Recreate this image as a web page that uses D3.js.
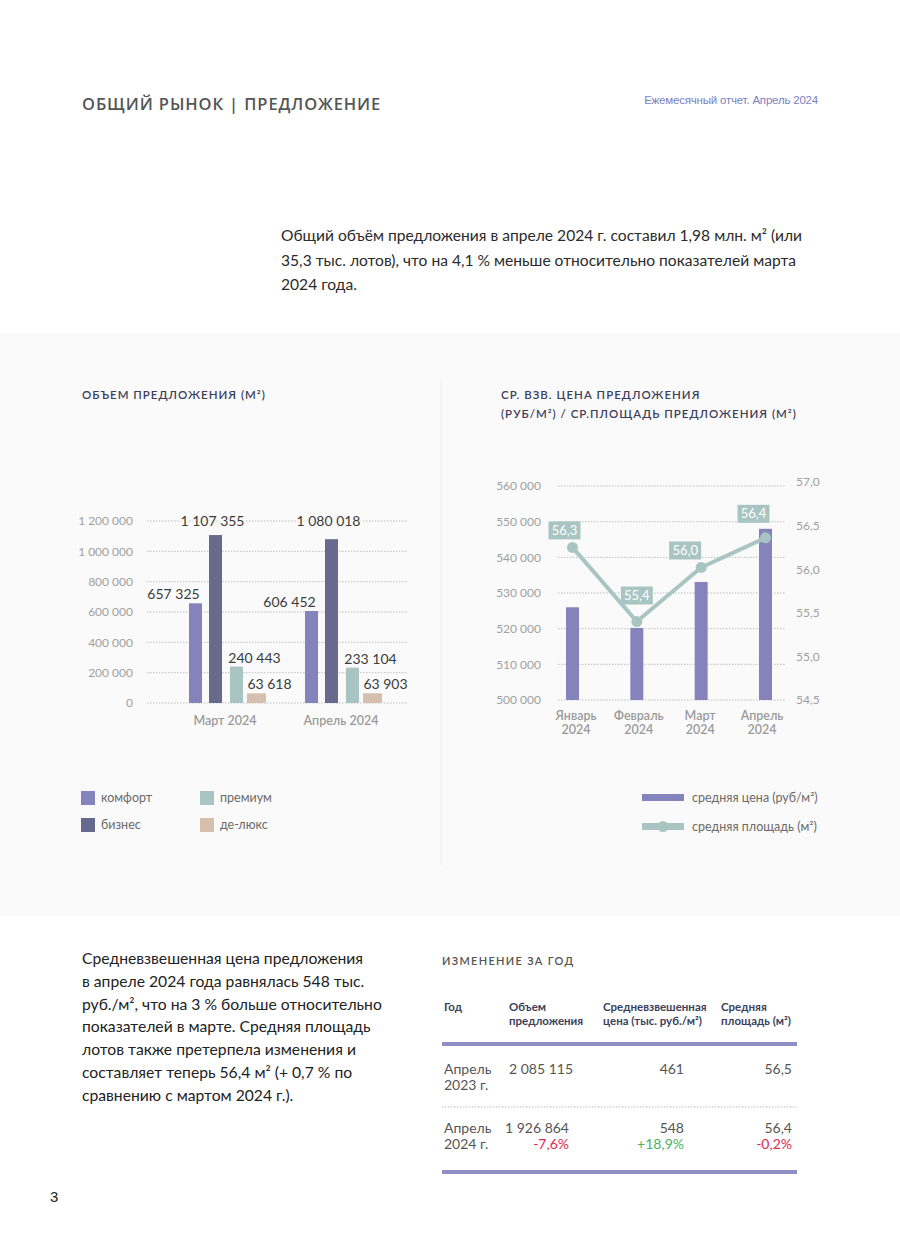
<!DOCTYPE html>
<html><head><meta charset="utf-8">
<script src="https://cdn.jsdelivr.net/npm/d3@7"></script>
<style>
html,body{margin:0;padding:0;background:#fff;}
svg{display:block;font-family:Lato,"Open Sans",sans-serif;}
</style></head>
<body>
<svg id="c" width="900" height="1256"></svg>
<script>
// ---- data ----
const volumeGroups = ["Март 2024", "Апрель 2024"];
const volumeSeries = ["комфорт", "бизнес", "премиум", "де-люкс"];
const comfortVol = [657325, 606452];
const businessVol = [1107355, 1080018];
const premiumVol = [240443, 233104];
const deluxeVol = [63618, 63903];
const volumeTicks = [0, 200000, 400000, 600000, 800000, 1000000, 1200000];

const months = ["Январь 2024", "Февраль 2024", "Март 2024", "Апрель 2024"];
const avgPrice = [526000, 520200, 533100, 548000];
const avgArea = [56.25, 55.4, 56.02, 56.36];
const priceTicks = [500000, 510000, 520000, 530000, 540000, 550000, 560000];
const areaTicks = [54.5, 55.0, 55.5, 56.0, 56.5, 57.0];

const tableHeaders = [["Год"], ["Объем", "предложения"], ["Средневзвешенная", "цена (тыс. руб./м²)"], ["Средняя", "площадь (м²)"]];
const tableYears = [["Апрель", "2023 г."], ["Апрель", "2024 г."]];
const tableVolume = ["2 085 115", "1 926 864"];
const tablePrice = ["461", "548"];
const tableArea = ["56,5", "56,4"];
const tableVolumeChg = [null, "-7,6%"];
const tablePriceChg = [null, "+18,9%"];
const tableAreaChg = [null, "-0,2%"];

// ---- helpers ----
const svg = d3.select("#c");
const colors = {"комфорт":"#8583bb","бизнес":"#676a8c","премиум":"#a9c5c3","де-люкс":"#d6bfad"};
const fmtSpace = v => d3.format(",")(v).replace(/,/g, " ");
const fmtComma1 = v => d3.format(".1f")(v).replace(".", ",");
const bg = "#fafafa";

// header
svg.append("text").attr("x", 82).attr("y", 110).attr("font-family", "'Open Sans',sans-serif")
  .attr("font-size", 16.5).attr("letter-spacing", 0.9).attr("font-weight", 600).attr("fill", "#555")
  .text("ОБЩИЙ РЫНОК | ПРЕДЛОЖЕНИЕ");
svg.append("text").attr("x", 818).attr("y", 104).attr("text-anchor", "end")
  .attr("font-family", "'Liberation Sans',Arial,sans-serif").attr("font-size", 11.5)
  .attr("fill", "#7b7fc0").attr("letter-spacing", -0.2).text("Ежемесячный отчет. Апрель 2024");

// intro paragraph
const intro = ["Общий объём предложения в апреле 2024 г. составил 1,98 млн. м² (или",
  "35,3 тыс. лотов), что на 4,1 % меньше относительно показателей марта",
  "2024 года."];
svg.append("g").selectAll("text").data(intro).join("text")
  .attr("x", 281).attr("y", (d, i) => 241 + i * 24.5)
  .attr("font-size", 15.6).attr("fill", "#2b2b2b").text(d => d);

// panel background
svg.append("rect").attr("x", 0).attr("y", 333).attr("width", 900).attr("height", 583).attr("fill", bg);
svg.append("line").attr("x1", 441).attr("x2", 441).attr("y1", 380).attr("y2", 865)
  .attr("stroke", "#eeeeee").attr("stroke-width", 1);

// chart titles
function title(x, y, lines) {
  svg.append("g").selectAll("text").data(lines).join("text")
    .attr("x", x).attr("y", (d, i) => y + i * 19)
    .attr("font-size", 11.5).attr("letter-spacing", 1.0).attr("fill", "#3d3f5a").attr("font-weight", 600)
    .text(d => d);
}
title(82, 399, ["ОБЪЕМ ПРЕДЛОЖЕНИЯ (М²)"]);
title(501, 399, ["СР. ВЗВ. ЦЕНА ПРЕДЛОЖЕНИЯ", "(РУБ/М²) / СР.ПЛОЩАДЬ ПРЕДЛОЖЕНИЯ (М²)"]);

// ---- chart 1: volume ----
{
  const g = svg.append("g");
  const y = d3.scaleLinear().domain([0, 1200000]).range([703, 521]);
  const x0 = d3.scaleBand().domain(volumeGroups).range([165, 397]).paddingInner(0.0).paddingOuter(0.0);
  // grid
  g.selectAll("line.grid").data(volumeTicks).join("line")
    .attr("x1", 147).attr("x2", 407).attr("y1", d => y(d)).attr("y2", d => y(d))
    .attr("stroke", "#bfbfbf").attr("stroke-dasharray", "1.5,1.5");
  const ax = d3.axisLeft(y).tickValues(volumeTicks).tickFormat(fmtSpace).tickSize(0).tickPadding(0);
  const axG = g.append("g").attr("transform", "translate(133,0)").call(ax);
  axG.select(".domain").remove();
  axG.selectAll("text").attr("font-size", 12).attr("fill", "#a0a0a0").attr("font-family", "Lato,sans-serif");

  const seriesVals = [comfortVol, businessVol, premiumVol, deluxeVol];
  const offsets = [24, 44, 65, 82];   // left edge within group
  const widths = [13, 13, 13, 19];
  const labelDx = [-22, -3, 18, 13];
  volumeGroups.forEach((grp, gi) => {
    const gx = x0(grp);
    seriesVals.forEach((vals, si) => {
      const v = vals[gi];
      const bx = gx + offsets[si];
      g.append("rect").attr("x", bx).attr("y", y(v)).attr("width", widths[si])
        .attr("height", y(0) - y(v)).attr("fill", colors[volumeSeries[si]]);
    });
    seriesVals.forEach((vals, si) => {
      const v = vals[gi];
      const cx = gx + offsets[si] + widths[si] / 2 + labelDx[si];
      let ly = y(v) - 4;
      if (si === 1) ly = y(1200000) + 5;
      g.append("text").attr("x", cx).attr("y", ly).attr("text-anchor", "middle")
        .attr("font-size", 14).attr("fill", "#3b3b3b")
        .attr("stroke", bg).attr("stroke-width", 4).attr("paint-order", "stroke")
        .text(fmtSpace(v));
    });
    g.append("text").attr("x", gx + 60).attr("y", 725).attr("text-anchor", "middle")
      .attr("font-size", 12.5).attr("fill", "#9a9a9a").attr("font-weight", 600).text(grp);
  });

  // legend
  const leg = [["комфорт", 81, 791], ["премиум", 200, 791], ["бизнес", 81, 818], ["де-люкс", 200, 818]];
  leg.forEach(([name, lx, ly]) => {
    g.append("rect").attr("x", lx).attr("y", ly).attr("width", 14).attr("height", 14).attr("fill", colors[name]);
    g.append("text").attr("x", lx + 20).attr("y", ly + 11).attr("font-size", 12.5).attr("fill", "#6a6a6a").text(name);
  });
}

// ---- chart 2: price / area ----
{
  const g = svg.append("g");
  const yL = d3.scaleLinear().domain([500000, 560000]).range([700, 486]);
  const yR = d3.scaleLinear().domain([54.5, 57.0]).range([700, 482]);
  const x = d3.scalePoint().domain(months).range([572.5, 765.5]);
  g.selectAll("line.grid").data(priceTicks).join("line")
    .attr("x1", 558).attr("x2", 785).attr("y1", d => yL(d)).attr("y2", d => yL(d))
    .attr("stroke", "#bfbfbf").attr("stroke-dasharray", "1.5,1.5");
  const axL = g.append("g").attr("transform", "translate(541,0)")
    .call(d3.axisLeft(yL).tickValues(priceTicks).tickFormat(fmtSpace).tickSize(0).tickPadding(0));
  axL.select(".domain").remove();
  axL.selectAll("text").attr("font-size", 12).attr("fill", "#a0a0a0").attr("font-family", "Lato,sans-serif");
  const axR = g.append("g").attr("transform", "translate(796,0)")
    .call(d3.axisRight(yR).tickValues(areaTicks).tickFormat(fmtComma1).tickSize(0).tickPadding(0));
  axR.select(".domain").remove();
  axR.selectAll("text").attr("font-size", 12).attr("fill", "#a0a0a0").attr("font-family", "Lato,sans-serif");

  g.selectAll("rect.bar").data(months).join("rect")
    .attr("x", d => x(d) - 6.5).attr("width", 13)
    .attr("y", (d, i) => yL(avgPrice[i])).attr("height", (d, i) => yL(500000) - yL(avgPrice[i]))
    .attr("fill", "#8583bb");

  const teal = "#a9c5c3";
  const line = d3.line().x((d, i) => x(months[i])).y(d => yR(d));
  g.append("path").datum(avgArea).attr("d", line).attr("fill", "none")
    .attr("stroke", teal).attr("stroke-width", 4).attr("stroke-linejoin", "round");
  g.selectAll("circle").data(avgArea).join("circle")
    .attr("cx", (d, i) => x(months[i])).attr("cy", d => yR(d)).attr("r", 5.5).attr("fill", teal);

  const lblDx = [-8, 0, -16, -12];
  const lblDy = [-17, -26, -17, -24];
  avgArea.forEach((v, i) => {
    const cx = x(months[i]) + lblDx[i], cy = yR(v) + lblDy[i];
    g.append("rect").attr("x", cx - 16).attr("y", cy - 9).attr("width", 32).attr("height", 18).attr("fill", teal);
    g.append("text").attr("x", cx).attr("y", cy + 4.5).attr("text-anchor", "middle")
      .attr("font-size", 13).attr("fill", "#ffffff").text(fmtComma1(v));
  });

  const lblShift = [3.5, 2, -1, -3.5];
  months.forEach((m, i) => {
    const parts = m.split(" ");
    const t = g.append("text").attr("text-anchor", "middle").attr("font-size", 12.5)
      .attr("fill", "#9a9a9a").attr("font-weight", 600);
    parts.forEach((p, j) => t.append("tspan").attr("x", x(m) + lblShift[i]).attr("y", 720 + j * 14).text(p));
  });

  // legend
  g.append("rect").attr("x", 642).attr("y", 794).attr("width", 42).attr("height", 7).attr("fill", "#8583bb");
  g.append("text").attr("x", 692).attr("y", 802).attr("font-size", 12.5).attr("fill", "#6a6a6a").text("средняя цена (руб/м²)");
  g.append("rect").attr("x", 642).attr("y", 823).attr("width", 42).attr("height", 7).attr("fill", teal);
  g.append("circle").attr("cx", 663).attr("cy", 826.5).attr("r", 5.5).attr("fill", teal);
  g.append("text").attr("x", 692).attr("y", 831).attr("font-size", 12.5).attr("fill", "#6a6a6a").text("средняя площадь (м²)");
}

// ---- bottom text ----
const bottom = ["Средневзвешенная цена предложения", "в апреле 2024 года равнялась 548 тыс.",
  "руб./м², что на 3 % больше относительно", "показателей в марте. Средняя площадь",
  "лотов также претерпела изменения и", "составляет теперь 56,4 м² (+ 0,7 % по",
  "сравнению с мартом 2024 г.)."];
svg.append("g").selectAll("text").data(bottom).join("text")
  .attr("x", 82).attr("y", (d, i) => 964 + i * 22.8)
  .attr("font-size", 15.7).attr("fill", "#222").text(d => d);

// ---- table ----
{
  const g = svg.append("g");
  g.append("text").attr("x", 442).attr("y", 965).attr("font-size", 11).attr("letter-spacing", 1.3)
    .attr("fill", "#555").attr("font-weight", 600).text("ИЗМЕНЕНИЕ ЗА ГОД");
  const colX = [444, 509, 603, 721];
  tableHeaders.forEach((h, i) => {
    h.forEach((line, j) => g.append("text").attr("x", colX[i]).attr("y", 1011 + j * 14)
      .attr("font-size", 11.5).attr("font-weight", 700).attr("fill", "#3d3f5a").text(line));
  });
  g.append("line").attr("x1", 442).attr("x2", 797).attr("y1", 1044).attr("y2", 1044)
    .attr("stroke", "#8e8fc4").attr("stroke-width", 4);
  g.append("line").attr("x1", 442).attr("x2", 797).attr("y1", 1107).attr("y2", 1107)
    .attr("stroke", "#bbb").attr("stroke-dasharray", "1.5,1.5");
  g.append("line").attr("x1", 442).attr("x2", 797).attr("y1", 1172).attr("y2", 1172)
    .attr("stroke", "#8e8fc4").attr("stroke-width", 4);
  const rowY = [1074, 1133];
  const red = "#e0294f", green = "#49b267";
  tableYears.forEach((yr, r) => {
    yr.forEach((line, j) => g.append("text").attr("x", 444).attr("y", rowY[r] + j * 16)
      .attr("font-size", 14).attr("fill", "#555").text(line));
    g.append("text").attr("x", r === 0 ? 509 : 569).attr("text-anchor", r === 0 ? "start" : "end")
      .attr("y", rowY[r]).attr("font-size", 14).attr("fill", "#555").text(tableVolume[r]);
    g.append("text").attr("x", 684).attr("text-anchor", "end").attr("y", rowY[r])
      .attr("font-size", 14).attr("fill", "#555").text(tablePrice[r]);
    g.append("text").attr("x", 792).attr("text-anchor", "end").attr("y", rowY[r])
      .attr("font-size", 14).attr("fill", "#555").text(tableArea[r]);
    const chg = [[tableVolumeChg[r], 569], [tablePriceChg[r], 684], [tableAreaChg[r], 792]];
    chg.forEach(([c, cx]) => {
      if (c) g.append("text").attr("x", cx).attr("y", rowY[r] + 16).attr("text-anchor", "end")
        .attr("font-size", 14).attr("fill", c.startsWith("+") ? green : red).text(c);
    });
  });
}

// page number
svg.append("text").attr("x", 50).attr("y", 1202).attr("font-family", "'Liberation Sans',Arial,sans-serif")
  .attr("font-size", 15).attr("fill", "#222").text("3");
</script>
</body></html>
